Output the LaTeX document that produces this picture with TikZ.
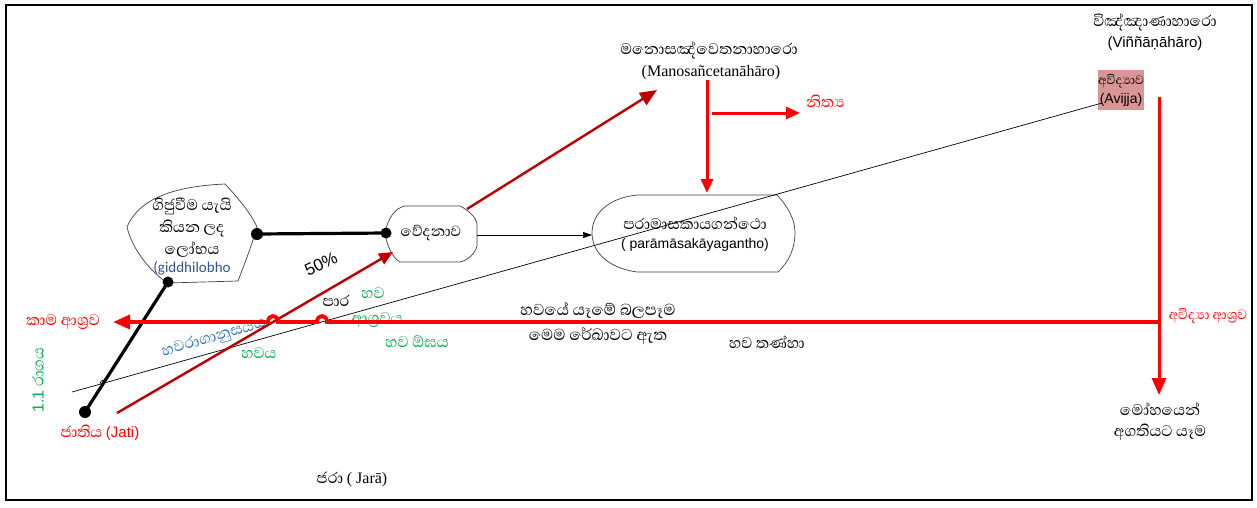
\documentclass[tikz,border=0pt]{standalone}
\usepackage{fontspec}
\setmainfont{Liberation Sans}
\newfontfamily\sifont[Script=Sinhala,Scale=1.5]{Abhaya Libre}
\newfontfamily\timesfont{Liberation Serif}
\newfontfamily\califont{Carlito}
\usetikzlibrary{arrows.meta}
\definecolor{brightred}{HTML}{FF0000}
\definecolor{darkred}{HTML}{C00000}
\definecolor{grn}{HTML}{00B050}
\definecolor{blu}{HTML}{2E75B6}
\definecolor{navy}{HTML}{2F5597}
\definecolor{pinkbox}{HTML}{D99694}
\begin{document}
\begin{tikzpicture}[x=1pt,y=-1pt,
  si/.style={font=\sifont\fontsize{13}{22}\selectfont, align=center, inner sep=0pt},
  arial/.style={font=\fontsize{14}{16}\selectfont, inner sep=0pt},
  shapeline/.style={draw=black!75, line width=0.7pt},
  thinline/.style={draw=black, line width=0.7pt},
  thickblk/.style={draw=black, line width=3.2pt},
  redmain/.style={draw=brightred, line width=3.8pt},
  redvert/.style={draw=brightred, line width=3pt},
  reddiag/.style={draw=darkred, line width=2.4pt},
  bigtip/.style={-{Triangle[length=17pt,width=14pt]}},
  midtip/.style={-{Triangle[length=14pt,width=12pt]}},
  smalltip/.style={-{Triangle[length=9pt,width=6pt]}},
]
\useasboundingbox (0,0) rectangle (1257,507);
\fill[white] (0,0) rectangle (1257,507);
\draw[line width=1.6pt] (6,5) rectangle (1252,500);

% ---- shapes ----
\draw[shapeline] (127,227) .. controls (140,196) and (180,186) .. (225,184)
  .. controls (238,198) and (250,212) .. (257,227)
  .. controls (252,245) and (244,265) .. (238,281) -- (167,283)
  .. controls (147,268) and (132,248) .. (127,227) -- cycle;
\draw[shapeline] (385,233) .. controls (388,218) and (395,208) .. (405,206) -- (460,206)
  .. controls (468,210) and (476,217) .. (477,224) -- (477,246)
  .. controls (475,254) and (468,260) .. (460,262) -- (400,262)
  .. controls (393,258) and (387,247) .. (385,233) -- cycle;
\draw[shapeline] (637,195) -- (777,195) .. controls (789,208) and (795,220) .. (795,233)
  .. controls (795,248) and (789,262) .. (778,272) -- (637,272)
  .. controls (608,268) and (592,252) .. (592,233)
  .. controls (592,214) and (608,198) .. (637,195) -- cycle;

% ---- text nodes ----
\node[si] (lobha) at (192,228) {ගිජුවීම යැයි\\කියන ලද\\ලෝභය};
\node[font=\califont\fontsize{15}{17}\selectfont, text=navy, inner sep=0pt] (giddhi) at (192,268) {(giddhilobho};
\node[si, font=\sifont\fontsize{12.5}{22}\selectfont] (vedana) at (431,233) {වේදනාව};
\node[si] (parama) at (695,223) {පරාමාසකායගන්ථො};
\node[arial] (paramaL) at (695,245) {( parāmāsakāyagantho)};
\node[si] (mano) at (709,50) {මනොසඤ්වෙතනාහාරො};
\node[font=\timesfont\fontsize{16}{18}\selectfont, inner sep=0pt] (manoL) at (711,73) {(Manosañcetanāhāro)};
\node[si] (vinn) at (1155,22) {විඤ්ඤාණාහාරො};
\node[font=\fontsize{15}{17}\selectfont, inner sep=0pt] (vinnL) at (1155,44) {(Viññāṇāhāro)};
\node[fill=pinkbox, minimum width=44pt, minimum height=40pt, inner sep=0pt, align=center,
      font=\fontsize{14}{19}\selectfont] (avijja) at (1121,90) {{\sifont\fontsize{10.5}{12}\selectfont අවිද්‍යාව}\\(Avijja)};
\node[si, text=brightred, anchor=west] (nitya) at (806,101) {නිත්‍ය};
\node[si, text=brightred] (kama) at (63,322) {කාම ආශ්‍රව};
\node[si, text=brightred, font=\sifont\fontsize{11.5}{22}\selectfont] (aviAs) at (1208,316) {අවිද්‍යා ආශ්‍රව};
\node[si, font=\sifont\fontsize{13}{21}\selectfont] (moha) at (1160,422) {මෝහයෙන්\\අගතියට යෑම};
\node[si, text=brightred] (jatiT) at (100,433) {ජාතිය {\fontsize{15}{17}\selectfont\rmfamily (Jati)}};
\node[si] (jara) at (352,479) {ජරා {\timesfont\fontsize{16}{18}\selectfont ( Jarā)}};
\node[si, text=grn, rotate=90] (raga) at (38,380) {{\rmfamily\fontsize{16}{18}\selectfont 1.1} රාගය};
\node[si, text=blu, rotate=16] (bhavaraga) at (214,338) {හවරාගානුසයය};
\node[si, text=grn] (bhavaya) at (259,353) {හවය};
\node[font=\fontsize{17}{19}\selectfont, rotate=25, inner sep=0pt] (fifty) at (321,264) {50\%};
\node[si] (para) at (336,301) {පාර};
\node[si, text=grn] (bhava1) at (373,293) {හව};
\node[si, text=grn] (asrava) at (377,320) {ආශ්‍රවය};
\node[si, text=grn] (ogha) at (417,342) {හව ඕඝය};
\node[si, font=\sifont\fontsize{13.5}{25}\selectfont] (bala) at (598,324) {හවයේ යෑමේ බලපෑම\\මෙම රේඛාවට ඇත};
\node[si] (tanha) at (767,342) {හව තණ්හා};

% ---- connector points ----
\coordinate (lobhaR) at (257,234);
\coordinate (lobhaB) at (168,282);
\coordinate (vedL) at (386,233);
\coordinate (vedR) at (477,235);
\coordinate (vedTR) at (467,209);
\coordinate (vedBL) at (393,252);
\coordinate (paraL) at (592,235);
\coordinate (paraT) at (707,193);
\coordinate (manoB) at (707,80);
\coordinate (manoArr) at (657,90);
\coordinate (nitStart) at (712,113);
\coordinate (nitEnd) at (800,113);
\coordinate (jati) at (85,412);
\coordinate (jatiR) at (117,413);
\coordinate (thinStart) at (72,392);
\coordinate (avijjaW) at (1102,103);
\coordinate (redTop) at (1159,97);
\coordinate (redJoin) at (1159,322);
\coordinate (mohaT) at (1159,395);
\coordinate (kamaR) at (113,322);

% ---- connectors ----
\draw[thinline, smalltip] (vedR) -- (paraL);
\draw[thinline] (thinStart) -- (100,384.2) .. controls (100,380) and (105,378.5) .. (106,382.5) -- (avijjaW);
\draw[thickblk] (lobhaR) -- (vedL);
\draw[thickblk] (jati) -- (lobhaB);
\fill (lobhaR) circle (6pt);
\fill (vedL) circle (5.5pt);
\fill (lobhaB) circle (5.5pt);
\fill (jati) circle (6pt);
\draw[reddiag, bigtip] (vedTR) -- (manoArr);
\draw[reddiag, midtip] (jatiR) -- (vedBL);
\draw[redvert, midtip] (manoB) -- (paraT);
\draw[redvert, midtip] (nitStart) -- (nitEnd);
\draw[redvert, bigtip] (redTop) -- (mohaT);
\draw[redmain, bigtip] (redJoin) -- (327,322) .. controls (327,314) and (317,314) .. (317,322)
  -- (278,322) .. controls (278,314) and (268,314) .. (268,322) -- (kamaR);
\end{tikzpicture}
\end{document}
